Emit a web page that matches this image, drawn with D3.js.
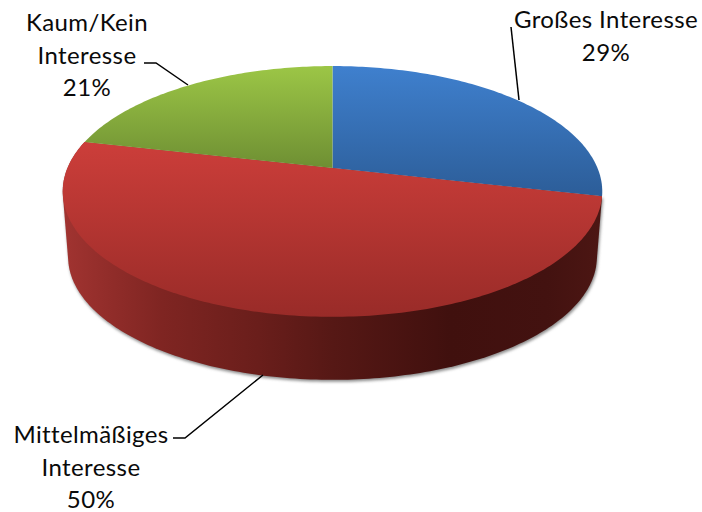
<!DOCTYPE html>
<html>
<head>
<meta charset="utf-8">
<script src="https://cdn.jsdelivr.net/npm/d3@7"></script>
<style>
  html, body {margin: 0; padding: 0; background: #fff;}
  text {font-family: Lato, "Open Sans", sans-serif; font-size: 24px; letter-spacing: 0.4px; fill: #0a0a0a; text-anchor: middle;}
</style>
</head>
<body>
<div id="plot"></div>
<script>
const FRAME_WIDTH = 702;
const FRAME_HEIGHT = 512;

const categories = ["Großes Interesse", "Mittelmäßiges Interesse", "Kaum/Kein Interesse"];
// read from the slice edges, the labels show them rounded
const values = [28.6, 50, 21.4];

// lines of text for each label, same order as categories
const labelLines = [
    ["Großes Interesse", "29%"],
    ["Mittelmäßiges", "Interesse", "50%"],
    ["Kaum/Kein", "Interesse", "21%"]
];

const APEX = {x: 332.5, y: 168};
const KX = 265;
const KY = 121;
const PERSP = 0.187;   // tilt of the disc
const DEPTH = 66;      // height of the cylinder wall
const BOTTOM_SCALE = 0.98;

const X_SCALE = d3.scaleLinear().domain([-1, 1]).range([APEX.x - KX, APEX.x + KX]);
const Y_SCALE = d3.scaleLinear().domain([-1, 1]).range([APEX.y - KY, APEX.y + KY]);

// angle on the disc -> screen point, level 0 = top face, level 1 = bottom edge
function project(angle, level) {
    const v = Math.sin(angle);
    const u = -Math.cos(angle);
    const w = 1 - PERSP * u;
    const s = level ? BOTTOM_SCALE : 1;
    return [
        APEX.x + s * (X_SCALE(v / w) - APEX.x),
        APEX.y + s * (Y_SCALE(u / w) - APEX.y) + level * DEPTH
    ];
}

function arcPoints(a0, a1, level) {
    const n = Math.ceil(Math.abs(a1 - a0) * 60);
    return d3.range(n + 1).map((i) => project(a0 + (a1 - a0) * i / n, level));
}

const LINE = d3.line();
const slices = d3.pie().sort(null)(values);

const FRAME = d3.select("#plot")
    .append("svg")
        .attr("width", FRAME_WIDTH)
        .attr("height", FRAME_HEIGHT)
        .style("display", "block");

const defs = FRAME.append("defs");

const topStops = [
    ["#3f80ce", "#2c5d98"],
    ["#cc3e3a", "#992b28"],
    ["#9cc646", "#6e8f33"]
];
topStops.forEach((c, i) => {
    const g = defs.append("linearGradient")
        .attr("id", "top" + i)
        .attr("x1", 0).attr("y1", 0).attr("x2", 0).attr("y2", 1);
    g.append("stop").attr("offset", 0).attr("stop-color", c[0]);
    g.append("stop").attr("offset", 1).attr("stop-color", c[1]);
});

const wall = defs.append("linearGradient")
    .attr("id", "wall")
    .attr("gradientUnits", "userSpaceOnUse")
    .attr("x1", 66).attr("y1", 0).attr("x2", 600).attr("y2", 0);
[[0, "#a03330"], [0.18, "#7f2522"], [0.36, "#6a1e1b"], [0.5, "#561815"],
 [0.72, "#40100e"], [0.9, "#431210"], [1, "#4c1613"]].forEach((s) => {
    wall.append("stop").attr("offset", s[0]).attr("stop-color", s[1]);
});

const shadow = defs.append("filter")
    .attr("id", "soft")
    .attr("x", "-5%").attr("y", "-5%").attr("width", "110%").attr("height", "115%");
shadow.append("feGaussianBlur").attr("stdDeviation", 1.5);

// wall of the red slice (the only one facing the viewer)
// hull gives the straight tangent edges left and right, its top chord stays under the top face
const red = slices[1];
const wallOutline = d3.polygonHull(
    arcPoints(red.startAngle, red.endAngle, 0)
        .concat(arcPoints(red.endAngle, red.startAngle, 1))
);

FRAME.append("path")
    .attr("d", LINE(wallOutline) + "Z")
    .attr("transform", "translate(1,2)")
    .attr("fill", "#8c8c8c")
    .attr("filter", "url(#soft)");

FRAME.append("path")
    .attr("d", LINE(wallOutline) + "Z")
    .attr("fill", "url(#wall)");

// top faces
FRAME.selectAll(".slice")
    .data(slices)
    .enter()
    .append("path")
        .attr("class", "slice")
        .attr("d", (d) => {
            const pts = [[APEX.x, APEX.y]].concat(arcPoints(d.startAngle, d.endAngle, 0));
            return LINE(pts) + "Z";
        })
        .attr("fill", (d, i) => "url(#top" + i + ")");

// leader lines
const leaders = [
    [[511, 27], [519, 100]],
    [[173, 438], [185, 438], [263, 375]],
    [[144, 63], [156, 63], [188, 85]]
];
FRAME.selectAll(".leader")
    .data(leaders)
    .enter()
    .append("path")
        .attr("class", "leader")
        .attr("d", (d) => LINE(d))
        .attr("fill", "none")
        .attr("stroke", "#000")
        .attr("stroke-width", 1.5);

// labels
const labelPos = [
    {x: 606, y: 28},
    {x: 91, y: 443},
    {x: 87, y: 31}
];
const labels = FRAME.selectAll(".label")
    .data(labelLines)
    .enter()
    .append("text")
        .attr("class", "label")
        .attr("transform", (d, i) => "translate(" + labelPos[i].x + "," + labelPos[i].y + ")");
labels.selectAll("tspan")
    .data((d) => d)
    .enter()
    .append("tspan")
        .attr("x", 0)
        .attr("y", (d, i) => i * 32.5)
        .text((d) => d);
</script>
</body>
</html>
